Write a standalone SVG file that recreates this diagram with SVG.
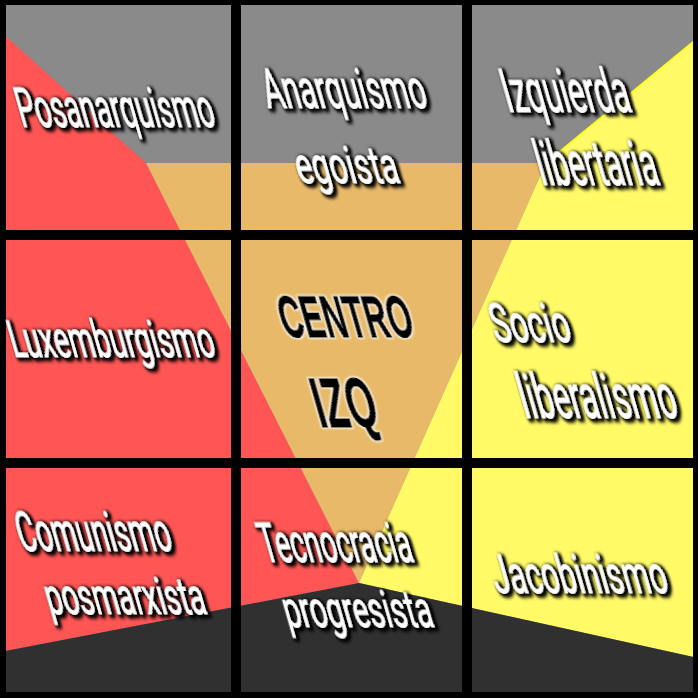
<svg xmlns="http://www.w3.org/2000/svg" width="698" height="698" viewBox="0 0 698 698">
<defs>
<style>
.lbl{font-family:Roboto,"Liberation Sans",sans-serif;font-weight:400;fill:#fff;stroke:#fff;stroke-width:0.6;filter:url(#halo)}
.ctr{font-family:"Liberation Sans",Roboto,sans-serif;font-weight:700;fill:#000;stroke:#000;stroke-width:1.5;filter:url(#whalo)}
.grid{fill:#000}
</style>
<filter id="halo" x="-30%" y="-50%" width="160%" height="200%">
<feMorphology in="SourceAlpha" operator="dilate" radius="1.4" result="d"/>
<feGaussianBlur in="d" stdDeviation="1.8" result="b"/>
<feOffset in="b" dx="1.5" dy="2" result="o"/>
<feFlood flood-color="#000" flood-opacity="0.95"/>
<feComposite in2="o" operator="in" result="s"/>
<feMerge><feMergeNode in="s"/><feMergeNode in="s"/><feMergeNode in="SourceGraphic"/></feMerge>
</filter>
<filter id="whalo" x="-30%" y="-50%" width="160%" height="200%">
<feMorphology in="SourceAlpha" operator="dilate" radius="1" result="d"/>
<feGaussianBlur in="d" stdDeviation="1" result="b"/>
<feFlood flood-color="#fff" flood-opacity="0.9"/>
<feComposite in2="b" operator="in" result="s"/>
<feMerge><feMergeNode in="s"/><feMergeNode in="SourceGraphic"/></feMerge>
</filter>
</defs>

<g id="background">
<rect x="0" y="0" width="698" height="698" fill="#8a8a8a"/>
<polygon points="0,31 146,163 359,583 0,652" fill="#ff5555"/>
<polygon points="146,163 546,163 359,583" fill="#e7b968"/>
<polygon points="546,163 698,38 698,658 359,583" fill="#fffa66"/>
<line x1="546" y1="163" x2="698" y2="38" stroke="#ffff22" stroke-width="2"/>
<polygon points="0,652 359,583 698,658 698,698 0,698" fill="#303030"/>
</g>

<g id="grid">
<rect class="grid" x="0" y="0" width="698" height="5"/>
<rect class="grid" x="0" y="692" width="698" height="6"/>
<rect class="grid" x="0" y="0" width="6" height="698"/>
<rect class="grid" x="693" y="0" width="5" height="698"/>
<rect class="grid" x="231" y="0" width="10" height="698"/>
<rect class="grid" x="462" y="0" width="10" height="698"/>
<rect class="grid" x="0" y="230" width="698" height="10"/>
<rect class="grid" x="0" y="458" width="698" height="10"/>
</g>

<g id="posanarquismo">
<g transform="translate(22,127) skewX(16)"><text class="lbl" font-size="56" textLength="196" lengthAdjust="spacingAndGlyphs">Posanarquismo</text></g>
</g>
<g id="anarquismo-egoista">
<g transform="translate(268,108) skewX(16)"><text class="lbl" font-size="56" textLength="162" lengthAdjust="spacingAndGlyphs">Anarquismo</text></g>
<g transform="translate(300,183) skewX(16)"><text class="lbl" font-size="52" textLength="102" lengthAdjust="spacingAndGlyphs">egoista</text></g>
</g>
<g id="izquierda-libertaria">
<g transform="translate(508,112) skewX(16)"><text class="lbl" font-size="60" textLength="126" lengthAdjust="spacingAndGlyphs">Izquierda</text></g>
<g transform="translate(542,185) skewX(16)"><text class="lbl" font-size="62" textLength="120" lengthAdjust="spacingAndGlyphs">libertaria</text></g>
</g>
<g id="luxemburgismo">
<g transform="translate(14,357) skewX(16)"><text class="lbl" font-size="52" textLength="204" lengthAdjust="spacingAndGlyphs">Luxemburgismo</text></g>
</g>
<g id="centro-izq">
<g transform="translate(285,337) skewX(16)"><text class="ctr" font-size="58" textLength="132" lengthAdjust="spacingAndGlyphs">CENTRO</text></g>
<g transform="translate(320,427) skewX(16)"><text class="ctr" font-size="70" textLength="62" lengthAdjust="spacingAndGlyphs">IZQ</text></g>
</g>
<g id="socio-liberalismo">
<g transform="translate(496,342) skewX(16)"><text class="lbl" font-size="54" textLength="78" lengthAdjust="spacingAndGlyphs">Socio</text></g>
<g transform="translate(525,418) skewX(16)"><text class="lbl" font-size="62" textLength="156" lengthAdjust="spacingAndGlyphs">liberalismo</text></g>
</g>
<g id="comunismo-posmarxista">
<g transform="translate(22,551) skewX(16)"><text class="lbl" font-size="56" textLength="153" lengthAdjust="spacingAndGlyphs">Comunismo</text></g>
<g transform="translate(50,614) skewX(16)"><text class="lbl" font-size="52" textLength="159" lengthAdjust="spacingAndGlyphs">posmarxista</text></g>
</g>
<g id="tecnocracia-progresista">
<g transform="translate(265,562) skewX(16)"><text class="lbl" font-size="56" textLength="151" lengthAdjust="spacingAndGlyphs">Tecnocracia</text></g>
<g transform="translate(288,627) skewX(16)"><text class="lbl" font-size="52" textLength="148" lengthAdjust="spacingAndGlyphs">progresista</text></g>
</g>
<g id="jacobinismo">
<g transform="translate(497,593) skewX(16)"><text class="lbl" font-size="54" textLength="174" lengthAdjust="spacingAndGlyphs">Jacobinismo</text></g>
</g>
</svg>
